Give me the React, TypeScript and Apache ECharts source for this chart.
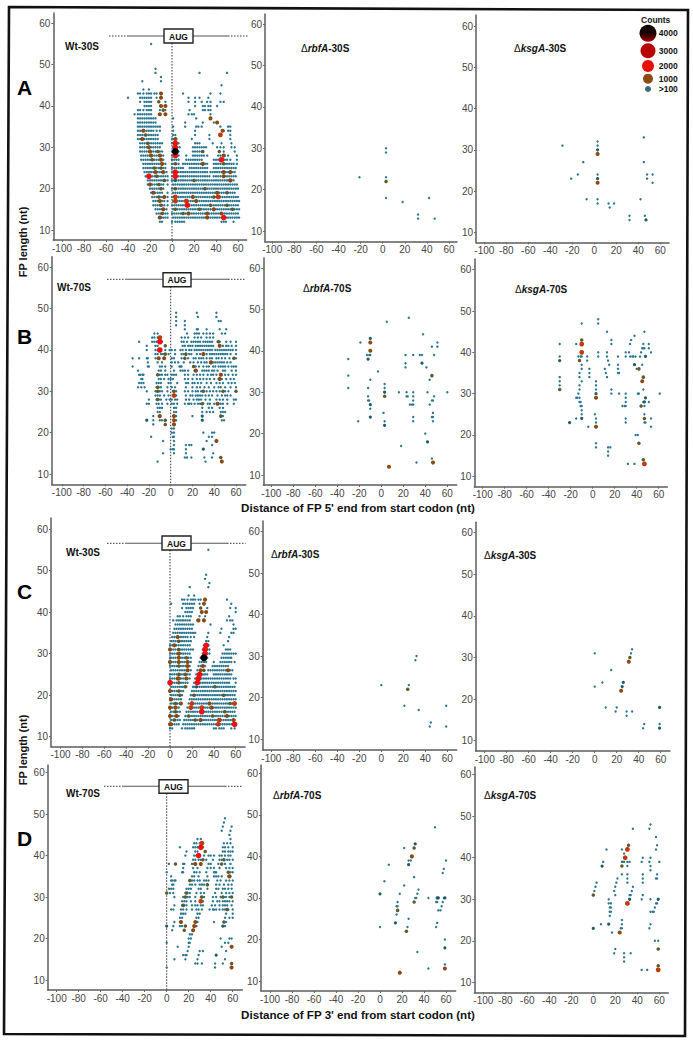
import React, { useEffect, useRef } from "react";
import * as echarts from "echarts";

const FONT = "Liberation Sans";
const xTicks = [-100, -80, -60, -40, -20, 0, 20, 40, 60];
const yTicks = [10, 20, 30, 40, 50, 60];

// Rows are written [length, x, x, x ...]
const a1Teal: number[][] = [
  [55,-19],[49,-15],[48,-15,25,50],[47,-10],[46,-27,-10],[45,45],[44,-26,-21],
  [43,-31,-29,-26,-23,-21,-19,-16,-14,10,35,44],
  [42,-40,-29,-27,-25,-23,-21,-19,-14,15,21,25,33],
  [41,-29,-25,-23,-21,-19,-6,15,21,27,32,35,44,47],
  [40,-25,-23,-21,-19,-6,21,28,30,33,35,41],
  [39,-31,-29,-26,-23,-21,-19,-11,-6,16,28,30,33,35],
  [38,-34,-31,-29,-27,-25,-23,-21,-19,-12,-6,15,18,20,35],
  [37,-31,-29,-27,-25,-23,-21,-19,-17,-15,1,22,35],
  [36,-31,-29,-27,-25,-23,-21,-19,-17,-15,12,28,38,41],
  [35,-31,-29,-27,-25,-23,-21,-19,-17,-15,-13,-11,1,12,22,24,27,44,51,53],
  [34,-31,-29,-27,-25,-23,-21,-19,-17,-14,-11,1,21,47,51,53],
  [33,-31,-29,-27,-25,-23,-21,-19,-17,-15,-13,1,3,21,34,44,53],
  [32,-31,-29,-27,-25,-23,-21,-19,-17,-15,-13,0,2,4,18,34,53],
  [31,-29,-27,-25,-23,-21,-19,-17,-15,-13,-11,-9,0,2,4,6,21,23,25,37,45,54],
  [30,-29,-27,-25,-23,-21,-19,-17,-15,-13,-11,1,3,5,7,19,21,23,25,27,29,31,41,44,47,54,57],
  [29,-29,-27,-25,-23,-21,-19,-17,-15,-13,-11,-9,0,2,4,6,19,21,23,25,27,28,47,57],
  [28,-28,-26,-24,-22,-20,-18,-16,-14,-12,-10,-8,0,2,4,6,13,19,21,23,25,27,29,32,42,44,46,48,51,59],
  [27,-28,-26,-24,-22,-20,-18,-16,-14,-12,-10,-8,0,2,4,6,13,15,17,19,21,23,25,27,38,40,42,44,46,48,50,53,59],
  [26,-26,-24,-22,-20,-18,-16,-14,-12,-10,-8,-6,0,2,4,6,10,12,14,16,18,20,22,24,26,28,30,32,38,40,42,44,46,48,50,52,54,56,59],
  [25,-26,-24,-22,-20,-18,-16,-14,-12,-10,-8,-6,0,2,4,6,8,10,16,18,20,22,24,26,28,30,32,38,40,42,44,46,48,50,52,54,56,58],
  [24,-25,-23,-21,-19,-17,-15,-13,-11,-9,-7,-5,0,2,4,6,8,10,12,14,16,18,20,22,24,26,28,30,32,35,37,39,41,43,45,47,49,51,53,55,57],
  [23,-24,-22,-20,-18,-16,-14,-12,-10,-8,-6,-4,0,2,4,6,8,10,12,14,16,18,20,22,24,26,28,30,32,34,38,40,42,44,46,48,50,52,54,56,58],
  [22,-22,-20,-18,-16,-14,-12,-10,-8,-6,-4,0,2,4,6,8,10,12,14,16,18,20,22,24,26,28,30,32,34,36,38,40,42,44,46,48,50,52,54,56],
  [21,-22,-20,-18,-16,-14,-12,-10,-8,-4,1,3,5,7,9,11,13,15,17,19,21,23,25,27,29,31,33,35,37,39,41,43,45,47,49,51,53,55,57,59],
  [20,-20,-18,-16,-14,-12,-10,-8,0,2,4,6,8,10,12,14,16,18,20,22,24,26,28,30,32,34,36,38,40,42,44,46,48,50,52,54,56,58,60],
  [19,-19,-17,-15,-13,-11,-9,-4,1,3,5,7,9,11,13,15,17,19,21,23,25,27,29,31,33,35,37,39,41,43,45,47,49,51,53,55,57],
  [18,-18,-16,-14,-12,-10,-8,-4,0,2,4,6,8,10,12,14,16,18,20,22,24,26,28,30,32,34,36,38,40,42,44,46,48,50,52,54,56,58,60],
  [17,-17,-15,-13,-11,-9,-7,-4,1,3,5,7,9,11,13,15,17,19,21,23,25,27,29,31,33,35,37,39,41,43,45,47,49,51,53,55,57,59,61],
  [16,-17,-15,-13,-11,-9,-7,-4,0,2,4,6,8,10,12,14,16,18,20,22,24,26,28,30,32,34,36,38,40,42,44,46,48,50,52,54,56,58,60],
  [15,-15,-13,-11,-9,-7,-5,1,3,5,7,9,11,13,15,17,19,21,23,25,27,29,31,33,35,37,39,41,43,45,47,49,51,53,55,57,59,61],
  [14,-14,-12,-10,-8,-6,-4,0,2,4,6,8,10,12,14,16,18,20,22,24,26,28,30,32,34,36,38,40,42,44,46,48,50,52,54,56,58,60],
  [13,-12,-10,-8,-6,-4,1,3,5,7,9,11,13,15,17,19,21,23,25,27,29,31,33,35,37,39,41,43,45,47,49,51,53,55,57,59,61],
  [12,-11,-9,0,3,5,7,9,11,45,47,49,56],
];
const a1Olive = [[-24,33],[-22,31],[-18,27],[-16,25],[-14,23],[-12,21],[-10,20],[-12,18],[-10,16],[-9,14],[-13,29],[-10,25],[-7,22],[10,14],[25,15],[35,16],[30,20],[20,22],[38,18],[50,16],[55,15],[50,19],[47,26],[28,29],[3,26],[3,20],[3,15],[43,29],[-12,41],[-8,39]];
const a1Brown = [[-26,34],[-27,32],[-21,30],[-20,29],[-19,28],[-11,28],[-10,27],[-9,26],[-15,24],[-8,24],[-20,21],[-17,19],[-7,18],[-11,17],[-8,15],[-11,13],[-10,43],[-10,42],[-10,40],[-6,40],[-6,38],[-11,38],[3,32],[28,26],[35,37],[41,36],[46,34],[47,28],[53,24],[47,24],[47,23],[53,22],[32,14],[32,13],[38,15],[15,14],[45,14],[41,19],[19,18],[22,17]];
const a1Rust = [[44,33],[42,18],[3,18],[3,17],[13,17]];
const a1Red = [[-21,23],[3,31],[3,30],[3,28],[3,24],[3,23],[14,16],[45,27],[47,13]];
const a1Black = [[3,29]];
const a1Dark = [[3,22]];

const a2Teal = [[3,30],[3,29],[3,23],[3,18],[-21,23],[18,17],[32,14],[32,13],[42,18],[47,13]];
const a2Olive = [[3,22]];

const a3Teal = [[3,32],[3,31],[3,24],[3,18],[3,17],[-29,31],[-10,27],[-15,24],[-21,23],[-7,18],[13,17],[14,16],[18,17],[32,14],[32,13],[42,18],[46,14],[45,33],[45,27],[48,24],[48,23],[53,24],[53,22]];
const a3Dark = [[3,30],[3,23],[47,13]];
const a3Brown = [[3,29],[3,22]];

const b1Teal: number[][] = [
  [49,5,24,42],[48,5,25,42],[47,5,13,44,46],[46,5,13],[45,13,24,25,33,45,51],
  [44,-15,-12,15,22,24,26,30,33,36,39,47,50],
  [43,-17,-15,-12,10,13,16,22,25,28,33,36,39],
  [42,-29,-17,-15,-13,-8,10,12,15,19,21,23,25,27,30,32,34,36,38,43,45,51,55,60],
  [41,-22,-14,-12,11,13,16,18,20,23,25,27,29,31,33,35,37,39,48,51,53,56,60],
  [40,-22,-14,-12,-5,-1,1,4,9,11,14,17,19,22,24,26,28,30,32,34,36,38,41,43,45,47,49,51,53,55,57,60],
  [39,-14,-12,-9,-7,-2,4,10,12,17,19,24,27,33,36,38,40,42,44,46,48,50,52,55,60],
  [38,-35,-29,-22,-21,-14,-12,1,3,10,16,21,23,26,28,30,33,36,38,42,44,47,50,54,60],
  [37,-21,-12,-8,1,4,7,12,18,21,25,28,31,33,36,39,41,43,45,47,49,52,55],
  [36,-35,-21,-20,-10,-8,-5,1,8,9,10,23,26,30,33,35,39,41,44,46,48,50,53,56,58,60],
  [35,-30,-11,-9,-5,3,9,11,13,16,22,24,29,31,33,35,38,40,43,48,50,56,60],
  [34,-29,-28,-26,-25,-10,-8,-5,-3,1,3,5,13,16,21,24,27,30,34,37,39,42,47,50,53,57,60],
  [33,-27,-26,-11,-9,-6,-2,0,2,13,16,20,24,27,30,33,36,40,44,47,51,55,58],
  [32,-29,-27,-25,-13,-11,-9,-2,0,6,14,16,20,22,25,28,33,37,42,45,48,53,56,59],
  [31,-30,-27,-24,-13,-11,-9,-3,1,4,14,20,24,27,31,35,40,44,46,50,55,60],
  [30,-22,-14,-10,-8,-3,2,5,13,16,20,23,25,28,33,36,39,42,45,50,53],
  [29,-14,-12,-10,-6,-2,5,14,18,20,23,25,27,29,32,35,38,43,47,50,52,55],
  [28,-20,-13,-11,-9,-4,-1,1,4,6,14,17,21,24,26,28,32,36,42,45,48,52,58,60],
  [27,-22,-20,-13,-11,-8,-3,1,3,6,13,16,17,19,22,25,27,30,34,36,40,44,46,48,52,58],
  [26,-12,-10,-8,3,5,29,35,38,45,48],[25,-12,-10,3,5,29,33,36,39,46,48,50],
  [24,-16,-11,5,20,48],[23,-16,-10,-8,5,47,49],[22,-16,3],[21,1,3],[20,1,3,30,38,40],
  [19,-18,2,3,35,38],[18,-7,3,33],[17,3,14,17,19,38],[16,0,2,3,14],[15,-7,3,14,39],
  [14,13,15,19,31,38],[13,-12,32],
];
const b1Olive = [[-5,41],[-5,39],[44,42],[21,36],[13,38],[14,39],[58,38],[60,30],[48,30],[30,30],[29,27],[46,24],[3,30],[-5,23],[-5,22],[-12,31],[-12,34],[-12,30],[-12,28],[46,14]];
const b1Dark = [[29,24],[29,23],[-22,23],[30,16]];
const b1Brown = [[-11,38],[-6,38],[45,41],[30,39],[37,37],[23,35],[46,34],[45,33],[43,27],[3,24],[3,23],[3,22],[-10,24],[42,18],[47,13]];
const b1Rust = [[3,29],[-10,43]];
const b1Red = [[-10,42],[-10,40]];

const b2Teal = [[-30,38],[-30,34],[-30,31],[-21,23],[-19,42],[-13,39],[-11,39],[-10,39],[-3,35],[-10,33],[-12,31],[-12,29],[-12,28],[-11,28],[-10,26],[2,25],[3,32],[3,31],[3,23],[5,47],[16,30],[18,17],[22,39],[22,37],[22,36],[23,30],[23,29],[24,29],[25,48],[26,27],[29,39],[29,30],[29,29],[29,28],[29,27],[28,27],[29,24],[29,23],[32,13],[35,39],[37,39],[38,44],[41,36],[40,20],[42,30],[44,27],[44,33],[46,14],[46,41],[47,28],[46,28],[47,24],[46,24],[47,23],[47,25],[48,39],[48,29],[51,42],[51,41],[60,30]];
const b2Dark = [[-12,38],[-10,43],[-10,27],[-10,24],[3,30],[3,22],[37,37],[42,18]];
const b2Olive = [[3,29],[46,34]];
const b2Brown = [[-10,42],[-10,40],[7,12],[47,13]];

const b3Teal = [[-30,42],[-30,39],[-30,34],[-30,33],[-30,32],[-15,24],[-15,42],[-15,29],[-13,39],[-11,39],[-10,47],[-10,39],[-10,37],[-10,36],[-12,35],[-12,34],[-10,33],[-12,32],[-12,31],[-13,30],[-14,29],[-12,29],[-12,28],[-11,28],[-11,27],[-10,27],[-10,26],[-10,25],[-5,39],[-5,38],[-3,36],[-3,35],[-3,34],[-4,22],[2,25],[3,33],[3,32],[3,31],[3,24],[3,23],[3,18],[3,17],[5,48],[5,47],[5,40],[5,39],[11,36],[12,35],[13,34],[13,45],[13,40],[13,39],[14,38],[15,37],[14,17],[14,16],[14,15],[16,17],[17,43],[17,42],[17,31],[17,30],[23,39],[23,37],[23,36],[23,35],[24,35],[24,30],[30,40],[30,39],[30,30],[30,29],[30,28],[30,27],[29,27],[27,27],[30,24],[30,23],[32,13],[33,40],[34,39],[35,43],[34,42],[36,39],[37,39],[38,44],[38,13],[39,39],[40,36],[45,37],[39,20],[41,20],[42,30],[41,30],[43,39],[44,40],[45,41],[47,45],[46,42],[47,41],[46,41],[46,31],[46,28],[47,27],[51,28],[47,25],[47,23],[48,23],[53,24],[53,22],[51,42],[51,41],[53,40],[61,30]];
const b3Dark = [[-30,38],[-21,23],[-10,24],[3,30],[38,37],[48,39],[48,29],[47,28]];
const b3Olive = [[-30,31],[-12,38],[-10,43],[42,36],[42,18],[46,34],[44,27],[47,24],[46,14]];
const b3Brown = [[3,29],[3,22],[45,33]];
const b3Rust = [[-10,42],[-10,40],[47,13]];

const c1Teal: number[][] = [
  [55,35],[49,33],[48,32],[47,36],[46,18,35],[44,17,22],
  [43,11,13,16,19,21,23,26,28,52],[42,1,12,14,16,18,20,22,27,56],
  [41,11,15,17,19,21,34,55,60],[40,14,16,18,20,33,60],
  [39,7,9,12,15,17,19,27,32,54],[38,3,6,8,10,12,14,16,18,25,31,52,55,57],
  [37,5,7,9,11,13,15,17,19,21,37,58],[36,4,6,8,10,12,14,16,18,20,47,58,60],
  [35,3,5,7,9,11,13,15,17,19,21,23,35,46,56,58],[34,2,4,6,8,10,12,14,16,19,22,34,54],
  [33,1,3,5,7,9,11,13,15,17,19,33,35,53],[32,0,2,4,6,8,10,12,14,16,18,31,33,35,49],
  [31,1,3,5,7,9,11,13,15,17,19,21,30,32,34,36,51,53,55],
  [30,0,2,4,6,8,10,12,14,16,18,30,32,34,36,48,50,52,54,56,58,60],
  [29,0,1,3,5,7,9,11,13,15,17,19,28,30,32,34,47,49,51,53,55,56],
  [28,1,3,5,7,9,11,13,15,17,19,27,29,31,33,40,46,48,50,52,54,56,59],
  [27,0,2,4,6,8,10,12,14,16,18,26,28,30,32,39,41,43,45,47,49,51,53],
  [26,1,3,5,7,9,11,13,15,17,19,25,27,29,31,35,37,39,41,43,45,47,49,51,53,55,57],
  [25,0,2,4,6,8,10,12,14,16,18,24,26,28,30,32,34,40,42,44,46,48,50,52,54,56],
  [24,0,2,4,6,8,10,12,14,16,18,23,25,27,29,31,33,35,37,39,41,43,45,47,49,51,53,55,58,60],
  [23,0,2,4,6,8,10,12,14,16,22,24,26,28,30,32,34,36,38,40,42,44,46,48,50,52,54,60],
  [22,1,3,5,7,9,11,13,15,21,23,25,27,29,31,33,35,37,39,41,43,45,47,49,51,53,55,57,59],
  [21,0,2,4,6,8,10,12,20,22,24,26,28,30,32,34,36,38,40,42,44,46,48,50,52,54,56,58,60],
  [20,1,3,5,7,9,11,19,21,23,25,27,29,31,33,35,37,39,41,43,45,47,49,51,53,55,57,59],
  [19,0,2,4,6,8,10,18,20,22,24,26,28,30,32,34,36,38,40,42,44,46,48,50,52,54,56,58,60],
  [18,1,3,5,7,9,17,19,21,23,25,27,29,31,33,35,37,39,41,43,45,47,49,51,53,55,57,59],
  [17,0,2,4,6,8,16,18,20,22,24,26,28,30,32,34,36,38,40,42,44,46,48,50,52,54,56,58,60],
  [16,1,3,5,7,9,15,17,19,21,23,25,27,29,31,33,35,37,39,41,43,45,47,49,51,53,55,57,59],
  [15,0,2,4,6,8,14,16,18,20,22,24,26,28,30,32,34,36,38,40,42,44,46,48,50,52,54,56,58,60],
  [14,1,3,5,7,9,13,15,17,19,21,23,25,27,29,31,33,35,37,39,41,43,45,47,49,51,53,55,57,59],
  [13,0,2,4,6,8,12,14,16,18,20,22,24,26,28,30,32,34,36,38,40,42,44,46,48,50,52,54,56,58,60],
  [12,0,2,11,14,16,18,20,22,40,42,45,47,49,56,59],
];
const c1Olive = [[8,33],[8,31],[8,27],[8,25],[8,23],[8,21],[9,20],[5,18],[5,16],[4,14],[15,29],[14,25],[14,22],[23,14],[39,15],[50,16],[49,20],[41,22],[55,18],[31,26],[22,20],[17,15],[28,41]];
const c1Brown = [[7,34],[4,32],[8,30],[8,29],[8,28],[16,28],[16,27],[16,26],[8,24],[15,24],[0,21],[1,19],[10,18],[5,17],[6,15],[1,13],[32,43],[31,42],[29,40],[33,40],[31,38],[26,38],[34,32],[53,26],[52,15],[28,14],[58,14],[36,18],[38,17],[0,31],[0,28],[0,17],[0,15],[0,13],[7,24],[28,26],[30,27]];
const c1Rust = [[59,18],[44,13],[45,14],[29,17],[20,18],[19,17]];
const c1Red = [[0,23],[33,32],[32,31],[32,30],[26,24],[27,25],[25,23],[29,16],[59,13]];
const c1Black = [[31,29]];
const c1Dark = [[24,22]];

const c2Teal = [[0,23],[21,18],[25,23],[32,30],[31,29],[34,17],[45,14],[44,13],[59,18],[59,13]];
const c2Olive = [[24,22]];

const c3Teal = [[0,31],[0,23],[7,24],[10,18],[15,27],[19,17],[20,18],[29,17],[29,16],[34,17],[34,32],[33,31],[44,13],[45,14],[59,14]];
const c3Dark = [[25,23],[26,24],[59,18],[59,13]];
const c3Olive = [[32,30]];
const c3Brown = [[24,22],[31,29]];

const d1Teal: number[][] = [
  [49,53],[48,52],[47,51,59],[46,50,58],[45,57],[44,28,31,58],[43,25,27,30,52,55,58],
  [42,12,24,26,28,33,51,53,56,60],[41,18,26,28,51,53,56,58,60],
  [40,17,25,27,34,38,40,43,48,50,53,56,58],[39,24,26,29,31,36,42,48,50,55,57,60],
  [38,2,15,16,23,25,38,40,47,53,58],[37,15,24,28,37,40,43,48,54,57,60],
  [36,0,14,15,25,27,30,36,43,44,45,58,60],[35,4,23,25,29,37,43,45,47,50,56,58],
  [34,4,5,7,8,23,25,28,30,34,36,38,46,49,54,57,60],[33,5,6,21,23,26,30,32,34,45,48,52,56,59],
  [32,2,4,6,18,20,22,29,31,37,45,47,51,53,56,59],[31,3,6,17,19,21,27,31,34,44,50,54,57,60],
  [30,7,15,19,21,26,31,34,42,45,49,52,54,57],[29,14,16,18,22,26,33,42,46,48,51,53,55,57,60],
  [28,7,14,16,18,23,26,28,31,33,41,44,48,51,53,55,59],
  [27,4,6,13,15,18,23,27,29,32,39,42,43,45,48,51,53,56,60],
  [26,13,15,17,28,30,54,60],[25,12,14,27,29,53,57,60],[24,7,12,28,43,54],[23,6,12,14,27,53],
  [22,5,24],[21,21,23],[20,20,22,49,57,59],[19,0,20,21,53,56],[18,10,20,50],
  [17,19,30,33,54],[16,15,17,18,29],[15,7,17,28,53],[14,26,28,32,44,51],[13,0,44],
];
const d1Olive = [[35,41],[33,39],[56,36],[50,38],[52,39],[32,30],[17,23],[16,22],[18,31],[21,34],[15,28],[17,30],[59,30],[55,27],[52,24],[8,38],[37,33],[51,30],[0,31],[59,14]];
const d1Dark = [[51,23],[0,23],[45,16]];
const d1Brown = [[26,38],[31,38],[57,35],[26,24],[25,23],[24,22],[13,24],[59,18],[59,13]];
const d1Rust = [[32,43],[31,29]];
const d1Red = [[31,42],[29,40]];

const d2Teal = [[8,38],[4,34],[22,42],[22,33],[18,31],[16,29],[16,28],[15,28],[15,26],[26,39],[28,39],[31,35],[35,32],[34,31],[33,30],[32,30],[26,25],[25,23],[34,17],[44,13],[44,30],[50,47],[51,23],[52,24],[52,29],[51,29],[53,27],[55,27],[56,28],[57,29],[58,30],[57,36],[58,37],[60,39],[59,20],[59,14],[0,23]];
const d2Dark = [[0,31],[14,24],[26,38],[32,43],[52,30],[53,30],[59,30],[59,18]];
const d2Olive = [[16,27],[31,42],[31,29],[24,22]];
const d2Brown = [[18,12],[29,40],[59,13]];

const d3Teal = [[1,32],[2,33],[3,34],[7,24],[9,39],[12,42],[17,22],[14,30],[14,29],[16,29],[16,28],[15,28],[16,27],[15,27],[15,26],[19,32],[20,31],[20,33],[21,34],[22,35],[20,18],[19,17],[26,25],[26,24],[26,23],[25,23],[26,42],[26,39],[27,39],[28,39],[28,41],[31,39],[33,39],[31,38],[26,36],[31,36],[31,35],[31,34],[36,33],[35,32],[34,31],[33,31],[28,17],[28,16],[28,15],[34,17],[36,47],[44,39],[45,40],[45,36],[45,35],[45,34],[45,31],[44,30],[44,13],[49,13],[51,47],[52,48],[51,39],[52,40],[52,38],[52,37],[57,45],[58,43],[57,42],[60,39],[58,36],[57,35],[58,35],[52,30],[58,29],[56,28],[57,29],[52,27],[54,27],[55,27],[52,24],[51,23],[56,20],[59,20]];
const d3Dark = [[0,23],[8,38],[14,24],[33,30],[59,30]];
const d3Olive = [[0,31],[26,38],[32,43],[59,18],[59,14]];
const d3Brown = [[24,22]];
const d3Rust = [[31,42],[31,29],[59,13],[29,40]];

const classStyles: Record<string, { size: number; color: string }> = {
  teal: { size: 2.4, color: "#2a7690" },
  dark: { size: 3.2, color: "#1e5c68" },
  olive: { size: 3.5, color: "#5d5a2c" },
  brown: { size: 4.1, color: "#8a4a12" },
  rust: { size: 4.8, color: "#c2390c" },
  red: { size: 5.6, color: "#ee1010" },
  black: { size: 7, color: "#080404" },
};

const rows = (r: number[][]) => r.flatMap(([y, ...xs]) => xs.map((x) => [x, y]));

const panelData: Record<string, number[][]>[] = [
  { teal: rows(a1Teal), dark: a1Dark, olive: a1Olive, brown: a1Brown, rust: a1Rust, red: a1Red, black: a1Black },
  { teal: a2Teal, olive: a2Olive },
  { teal: a3Teal, dark: a3Dark, brown: a3Brown },
  { teal: rows(b1Teal), dark: b1Dark, olive: b1Olive, brown: b1Brown, rust: b1Rust, red: b1Red },
  { teal: b2Teal, dark: b2Dark, olive: b2Olive, brown: b2Brown },
  { teal: b3Teal, dark: b3Dark, olive: b3Olive, brown: b3Brown, rust: b3Rust },
  { teal: rows(c1Teal), dark: c1Dark, olive: c1Olive, brown: c1Brown, rust: c1Rust, red: c1Red, black: c1Black },
  { teal: c2Teal, olive: c2Olive },
  { teal: c3Teal, dark: c3Dark, olive: c3Olive, brown: c3Brown },
  { teal: rows(d1Teal), dark: d1Dark, olive: d1Olive, brown: d1Brown, rust: d1Rust, red: d1Red },
  { teal: d2Teal, dark: d2Dark, olive: d2Olive, brown: d2Brown },
  { teal: d3Teal, dark: d3Dark, olive: d3Olive, brown: d3Brown, rust: d3Rust },
];

// left, right, top, bottom, px of x=0, px of x=60, px of y=60, px of y=10
const layout = [
  [53.3, 246.7, 13, 240, 172, 238, 23.3, 230],
  [265, 457, 14, 241.7, 382.7, 449, 24.3, 231],
  [476, 669, 15, 242.3, 594.3, 660.3, 26, 232.3],
  [51.7, 245.7, 256.7, 484.3, 170.7, 236, 267.3, 474],
  [263.3, 456.7, 258, 485, 381.3, 447.3, 268, 475],
  [474.3, 667.3, 259, 486.7, 592.7, 658.7, 269.7, 476.3],
  [51, 245, 518, 746.7, 170, 235.7, 529, 736.7],
  [262.7, 456.7, 521, 750, 381.3, 447.3, 531.7, 739],
  [475.7, 670, 522.3, 751, 594.7, 660.7, 532.7, 740.7],
  [47.7, 242.3, 765, 990, 166.7, 232.7, 772.7, 980],
  [261, 455.7, 765, 991, 380, 446, 773.3, 981],
  [474.3, 668.3, 767, 992.3, 593.3, 659.3, 774.7, 982.3],
];

const wtTitles = [
  { t: "Wt-30S", x: 65, y: 46 },
  { t: "Wt-70S", x: 57, y: 287 },
  { t: "Wt-30S", x: 66, y: 552 },
  { t: "Wt-70S", x: 66, y: 793 },
];
const mutantTitles = [
  { g: "rbfA", s: "-30S", x: 301, y: 48 },
  { g: "ksgA", s: "-30S", x: 514, y: 48 },
  { g: "rbfA", s: "-70S", x: 303, y: 288 },
  { g: "ksgA", s: "-70S", x: 515, y: 289 },
  { g: "rbfA", s: "-30S", x: 271, y: 554 },
  { g: "ksgA", s: "-30S", x: 484, y: 555 },
  { g: "rbfA", s: "-70S", x: 273, y: 795 },
  { g: "ksgA", s: "-70S", x: 484, y: 795 },
];
const letters = [
  { t: "A", y: 87 },
  { t: "B", y: 336 },
  { t: "C", y: 591 },
  { t: "D", y: 838 },
];
const augBars = [
  { x1: 109, s1: 127, s2: 228, x2: 248, y: 36, bx: 164, bw: 29, by: 29, bh: 14, vx: 172, vy2: 240 },
  { x1: 107, s1: 125, s2: 228, x2: 246, y: 279.3, bx: 163, bw: 28, by: 272.7, bh: 14, vx: 170.7, vy2: 484.3 },
  { x1: 107, s1: 125, s2: 227, x2: 245.7, y: 543.3, bx: 162, bw: 29, by: 536, bh: 14, vx: 170, vy2: 746.7 },
  { x1: 104, s1: 122, s2: 225, x2: 242.7, y: 786.3, bx: 159, bw: 29, by: 779.7, bh: 13.6, vx: 166.7, vy2: 990 },
];
const legendItems = [
  { label: "4000", y: 33.3, r: 8.5, color: "#b00000" },
  { label: "3000", y: 50.7, r: 7.5, color: "#b80404" },
  { label: "2000", y: 66, r: 6, color: "#e61008" },
  { label: "1000", y: 78.7, r: 5, color: "#8c4a10" },
  { label: ">100", y: 89, r: 3, color: "#2f6f70" },
];
const xTitles = [
  { t: "Distance of FP 5' end from start codon (nt)", y: 507 },
  { t: "Distance of FP 3' end from start codon (nt)", y: 1014 },
];
const yTitles = [
  { t: "FP length (nt)", y: 242 },
  { t: "FP length (nt)", y: 750 },
];
const framePoints = [[9, 7], [688, 10], [685, 1036], [4, 1034]];

function buildOption() {
  const grid: any[] = [];
  const xAxis: any[] = [];
  const yAxis: any[] = [];
  const series: any[] = [];
  layout.forEach(([left, right, top, bottom, x0, x60, y60, y10], i) => {
    const kx = (x60 - x0) / 60;
    const ky = (y10 - y60) / 50;
    grid.push({ left, top, width: right - left, height: bottom - top, containLabel: false });
    const line = { show: true, onZero: false, lineStyle: { color: "#5c5c5c", width: 1.5 } };
    const labelStyle = { color: "#454545", fontSize: 10, fontFamily: FONT };
    xAxis.push({
      type: "value", gridIndex: i,
      min: (left - x0) / kx, max: (right - x0) / kx,
      axisLine: line, splitLine: { show: false },
      axisTick: { show: true, length: 2, customValues: xTicks, lineStyle: { color: "#666" } },
      axisLabel: { ...labelStyle, margin: 3, customValues: xTicks },
    });
    yAxis.push({
      type: "value", gridIndex: i,
      min: 10 - (bottom - y10) / ky, max: 60 + (y60 - top) / ky,
      axisLine: line, splitLine: { show: false },
      axisTick: { show: true, length: 2, customValues: yTicks, lineStyle: { color: "#666" } },
      axisLabel: { ...labelStyle, margin: 3, customValues: yTicks },
    });
    const panel = panelData[i];
    Object.keys(classStyles).forEach((cls) => {
      const data = panel[cls];
      if (!data) return;
      series.push({
        type: "scatter", xAxisIndex: i, yAxisIndex: i, data, silent: true,
        symbol: "circle", symbolSize: classStyles[cls].size,
        itemStyle: { color: classStyles[cls].color, opacity: 1 },
        z: 2 + Object.keys(classStyles).indexOf(cls),
      });
    });
  });

  const graphic: any[] = [];
  graphic.push({
    type: "polygon", shape: { points: framePoints }, z: 1,
    style: { fill: "none", stroke: "#111", lineWidth: 2.6 },
  });
  const boldText = (t: string, x: number, y: number, size: number, extra: any = {}) => ({
    type: "text", x, y, z: 20,
    style: { text: t, fill: "#111", font: `bold ${size}px "${FONT}"`, textVerticalAlign: "middle", ...extra },
  });
  wtTitles.forEach((w) => graphic.push(boldText(w.t, w.x, w.y, 10)));
  mutantTitles.forEach((m) => {
    graphic.push({
      type: "text", x: m.x, y: m.y, z: 20,
      style: {
        text: `{d|\u0394}{g|${m.g}}{s|${m.s}}`, textVerticalAlign: "middle",
        rich: {
          d: { font: `10px "${FONT}"`, fill: "#111" },
          g: { font: `italic bold 10px "${FONT}"`, fill: "#111" },
          s: { font: `bold 10px "${FONT}"`, fill: "#111" },
        },
      },
    });
  });
  letters.forEach((l) => graphic.push(boldText(l.t, 17, l.y, 21, { fill: "#000" })));
  xTitles.forEach((t) => graphic.push(boldText(t.t, 358, t.y, 11.6, { textAlign: "center" })));
  yTitles.forEach((t) =>
    graphic.push({
      type: "text", x: 23, y: t.y, rotation: Math.PI / 2, z: 20,
      style: { text: t.t, fill: "#111", font: `bold 11px "${FONT}"`, textAlign: "center", textVerticalAlign: "middle" },
    })
  );
  augBars.forEach((b) => {
    const dotted = { stroke: "#333", lineWidth: 1, lineDash: [1.5, 1.5] };
    graphic.push({ type: "line", z: 1, shape: { x1: b.vx, y1: b.by + b.bh, x2: b.vx, y2: b.vy2 }, style: dotted });
    graphic.push({ type: "line", z: 1, shape: { x1: b.x1, y1: b.y, x2: b.s1, y2: b.y }, style: dotted });
    graphic.push({ type: "line", z: 1, shape: { x1: b.s2, y1: b.y, x2: b.x2, y2: b.y }, style: dotted });
    graphic.push({ type: "line", z: 1, shape: { x1: b.s1, y1: b.y, x2: b.s2, y2: b.y }, style: { stroke: "#555", lineWidth: 1.1 } });
    graphic.push({ type: "rect", z: 15, shape: { x: b.bx, y: b.by, width: b.bw, height: b.bh }, style: { fill: "#fff", stroke: "#222", lineWidth: 1.4 } });
    graphic.push(boldText("AUG", b.bx + b.bw / 2, b.by + b.bh / 2 + 0.5, 8.5, { textAlign: "center" }));
  });
  graphic.push(boldText("Counts", 655.7, 20, 8.5, { textAlign: "center" }));
  legendItems.forEach((it, idx) => {
    graphic.push({
      type: "circle", z: 15, shape: { cx: 648, cy: it.y, r: it.r },
      style: {
        fill:
          idx === 0
            ? new echarts.graphic.LinearGradient(0, 0, 0, 1, [
                { offset: 0, color: "#050202" },
                { offset: 0.55, color: "#200202" },
                { offset: 1, color: "#b00000" },
              ])
            : it.color,
      },
    });
    graphic.push(boldText(it.label, 658.7, it.y, 8.5));
  });

  return { animation: false, backgroundColor: "#fff", grid, xAxis, yAxis, series, graphic };
}

export default function App() {
  const ref = useRef<HTMLDivElement>(null);
  useEffect(() => {
    document.body.style.margin = "0";
    const chart = echarts.init(ref.current!, undefined, { renderer: "svg" });
    chart.setOption(buildOption() as any);
    return () => chart.dispose();
  }, []);
  return <div ref={ref} style={{ width: 693, height: 1042 }} />;
}
